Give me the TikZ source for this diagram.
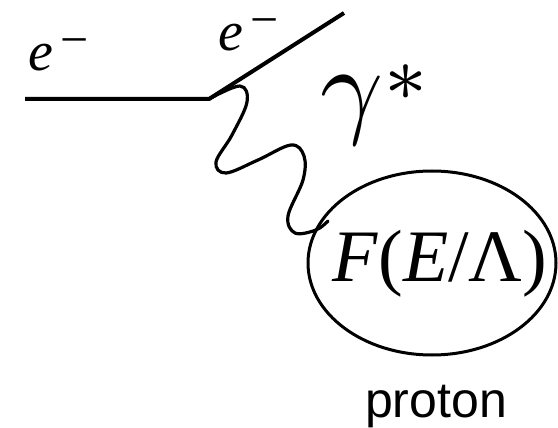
\documentclass[tikz,border=0pt]{standalone}
\usepackage{fontspec}
\usepackage{graphicx}
\usepackage{tikz}
\usetikzlibrary{positioning,shapes.geometric,calc}
\newfontfamily\tms{Liberation Serif}
\setsansfont{Liberation Sans}
\newcommand{\elec}{{\tms\fontsize{56}{56}\selectfont\textit{e}\hspace{7pt}\raisebox{14pt}[0pt][0pt]{\fontsize{50}{50}\selectfont −}}}

\begin{document}
\begin{tikzpicture}[x=1pt, y=-1pt, every node/.style={inner sep=0pt},
    lepton/.style={line width=4pt, line join=round},
    photon/.style={line width=3.2pt, line join=round, line cap=round},
    elabel/.style={anchor=base west, text height=30pt, text depth=0pt},
    blob/.style={draw, ellipse, line width=3pt, minimum width=248pt, minimum height=184pt}]
  \useasboundingbox (0,0) rectangle (558,428);
  % electron line
  \coordinate (in) at (25,99);
  \coordinate (vtx) at (209,99);
  \coordinate (out) at (344,13);
  \draw[lepton] (in) -- (vtx) -- (out);
  \node[elabel] (ein) at (28,71) {\elec};
  \node[elabel] (eout) at (218,51) {\elec};
  % proton
  \node[blob] (p) at (432,263) {};
  \node (ff) at (440,264) {\tms\fontsize{74}{74}\selectfont\textit{F}(\textit{E}/Λ)};
  \node[anchor=base, font=\sffamily\fontsize{50}{50}\selectfont] (lbl) at (436,417) {proton};
  % virtual photon
  \node[anchor=base west] (g) at (320,124) {\scalebox{11}{$\gamma^{\raisebox{-1.5pt}{$\scriptstyle*$}}$}};
  \coordinate (hit) at (328,221);
  \draw[photon] plot[smooth, tension=0.6] coordinates {(vtx) (240,86) (247,102) (232,135) (216,162) (226,173) (258,160) (291,145) (304,156) (303,180) (288,216) (295,233) (316,230) (hit)};
\end{tikzpicture}
\end{document}
